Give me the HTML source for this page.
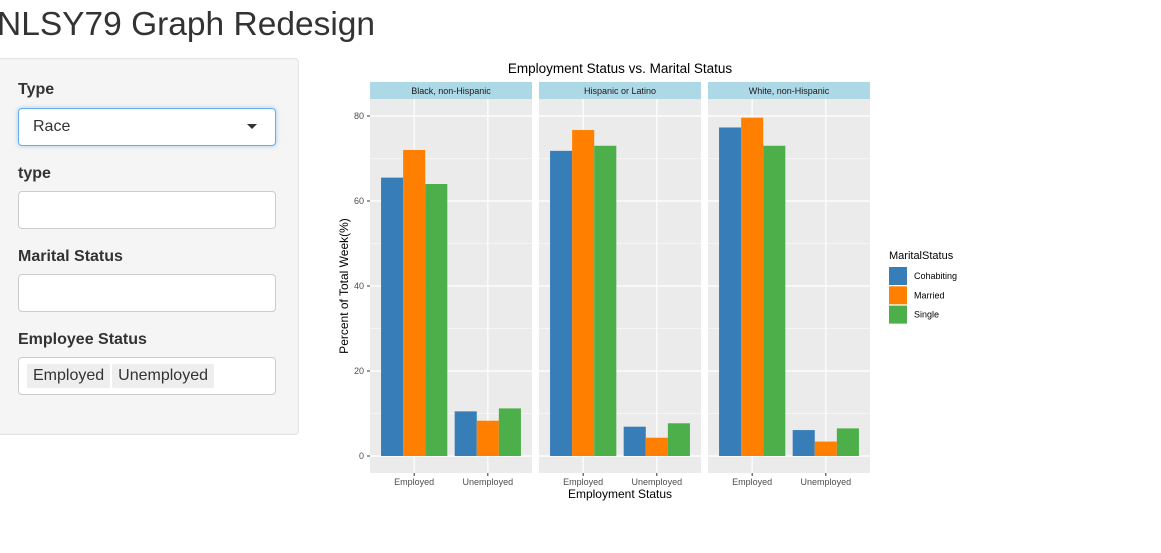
<!DOCTYPE html>
<html><head><meta charset="utf-8">
<style>
body{margin:0;width:1161px;height:553px;background:#fff;font-family:"Liberation Sans",sans-serif;position:relative;overflow:hidden;color:#333}
.abs{position:absolute}
h1{position:absolute;left:-3px;top:6px;margin:0;font-weight:normal;font-size:33.5px;color:#333;white-space:nowrap}
.side{left:-10px;top:58px;width:307px;height:375px;background:#f5f5f5;border:1px solid #e3e3e3;border-radius:4px}
.lbl{position:absolute;left:18px;font-weight:bold;font-size:16px;color:#333}
.inp{position:absolute;left:18px;width:258px;background:#fff;border:1px solid #ccc;border-radius:4px;box-sizing:border-box}
.tag{display:inline-block;background:#eee;padding:3px 6px;font-size:16px;margin-right:2px;border-radius:2px}
</style></head><body>
<h1>NLSY79 Graph Redesign</h1>
<div class="abs side"></div>
<div class="lbl" style="top:81px">Type</div>
<div class="inp" style="top:108px;height:38px;border-color:#66afe9;box-shadow:0 0 5px rgba(102,175,233,.6)">
 <span style="position:absolute;left:14px;top:9px;font-size:16px">Race</span>
 <span style="position:absolute;right:18px;top:15px;width:0;height:0;border-left:5px solid transparent;border-right:5px solid transparent;border-top:5px solid #333"></span>
</div>
<div class="lbl" style="top:165px">type</div>
<div class="inp" style="top:191px;height:38px"></div>
<div class="lbl" style="top:248px">Marital Status</div>
<div class="inp" style="top:274px;height:38px"></div>
<div class="lbl" style="top:331px">Employee Status</div>
<div class="inp" style="top:357px;height:38px;padding:6px 0 0 8px"><span class="tag">Employed</span><span class="tag">Unemployed</span></div>

<svg id="chart" class="abs" style="left:0;top:0" width="1161" height="553"></svg>
<script>
const facets=["Black, non-Hispanic","Hispanic or Latino","White, non-Hispanic"];
const categories=["Employed","Unemployed"];
const series=["Cohabiting","Married","Single"];
const colors=["#377eb8","#ff7f00","#4daf4a"];
const cohabiting=[[65.5,10.5],[71.8,6.9],[77.3,6.1]];
const married=[[72,8.3],[76.7,4.3],[79.6,3.4]];
const single=[[64,11.2],[73,7.7],[73,6.5]];
const yTicks=[0,20,40,60,80];
const yMinor=[10,30,50,70];

const svg=document.getElementById('chart');
const NS='http://www.w3.org/2000/svg';
function mk(t,a,txt){const e=document.createElementNS(NS,t);for(const k in a)e.setAttribute(k,a[k]);if(txt!=null)e.textContent=txt;svg.appendChild(e);return e;}
const y=v=>456-v*4.25;
const panelX=[370,539,708],pw=162,pTop=99,pBot=473;
const xs=(p,i)=>panelX[p]+pw*(0.6+i)/2.2;
const unit=pw/2.2;
const all=[cohabiting,married,single];
let e;
e=mk('text',{x:620,y:73,'font-size':13.5,'text-anchor':'middle',fill:'#000'},'Employment Status vs. Marital Status');


facets.forEach((f,p)=>{
  const x0=panelX[p];
  e=mk('rect',{x:x0,y:82,width:pw,height:17,fill:'#add8e6'});
  
  
  e=mk('text',{x:x0+pw/2,y:94,'font-size':9,'text-anchor':'middle',fill:'#1a1a1a'},f);
  
  
  e=mk('rect',{x:x0,y:pTop,width:pw,height:pBot-pTop,fill:'#ebebeb'});
  
  
  yMinor.forEach(v=>{e=mk('line',{x1:x0,x2:x0+pw,y1:y(v),y2:y(v),stroke:'#fff','stroke-width':0.6});
    
    });
  yTicks.forEach(v=>{e=mk('line',{x1:x0,x2:x0+pw,y1:y(v),y2:y(v),stroke:'#fff','stroke-width':1.2});
    
    });
  categories.forEach((c,i)=>{
    const cx=xs(p,i);
    e=mk('line',{x1:cx,x2:cx,y1:pTop,y2:pBot,stroke:'#fff','stroke-width':1.2});
    
    
    e=mk('line',{x1:cx,x2:cx,y1:pBot,y2:pBot+3,stroke:'#333'});
    
    
    e=mk('text',{x:cx,y:485,'font-size':9,'text-anchor':'middle',fill:'#4d4d4d'},c);
    
    
    const bw=unit*0.9/3;
    all.forEach((s,k)=>{
      const v=s[p][i];
      e=mk('rect',{x:cx-unit*0.45+k*bw,y:y(v),width:bw,height:y(0)-y(v),fill:colors[k]});
      
      
    });
  });
});
yTicks.forEach(v=>{
  e=mk('text',{x:364,y:y(v)+3,'font-size':9,'text-anchor':'end',fill:'#4d4d4d'},v);
  
  
  e=mk('line',{x1:367,x2:370,y1:y(v),y2:y(v),stroke:'#333'});
  
  
});
e=mk('text',{x:620,y:498,'font-size':12,'text-anchor':'middle',fill:'#000'},'Employment Status');


e=mk('text',{x:0,y:0,'font-size':12,'text-anchor':'middle',fill:'#000',transform:'translate(348,286) rotate(-90)'},'Percent of Total Week(%)');


e=mk('text',{x:889,y:259,'font-size':11,fill:'#000'},'MaritalStatus');


series.forEach((s,k)=>{
  e=mk('rect',{x:889,y:267+k*19.3,width:18,height:18,fill:colors[k]});
  
  
  e=mk('text',{x:914,y:279+k*19.3,'font-size':9,fill:'#000'},s);
  
  
});
</script>
</body></html>
